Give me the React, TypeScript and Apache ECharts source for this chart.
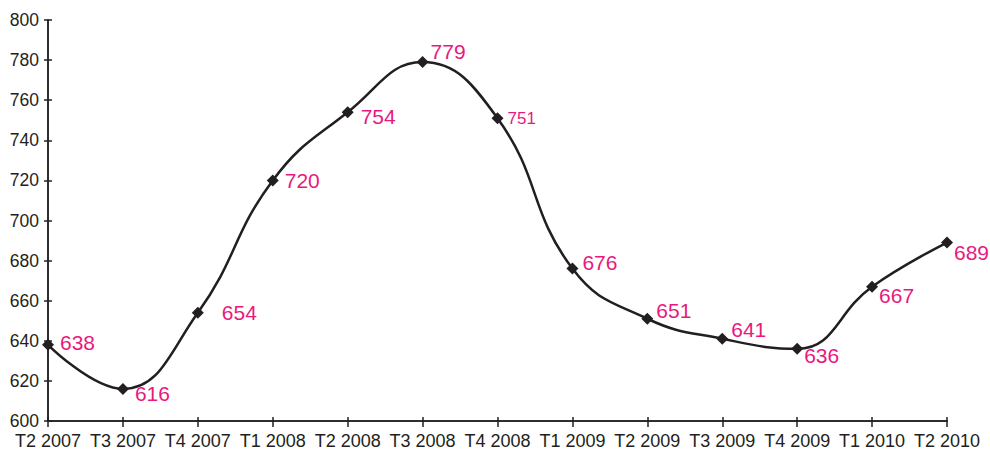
import React, { useEffect, useRef } from "react";
import * as echarts from "echarts";

const categories = [
  "T2 2007", "T3 2007", "T4 2007", "T1 2008", "T2 2008", "T3 2008", "T4 2008",
  "T1 2009", "T2 2009", "T3 2009", "T4 2009", "T1 2010", "T2 2010",
];
const values = [638, 616, 654, 720, 754, 779, 751, 676, 651, 641, 636, 667, 689];
const labelDx = [12, 12, 24, 12, 13, 8, 10, 10, 9, 9, 7, 7, 7];
const labelDy = [-2, 5, 0, 0, 4, -11, 0, -6, -8, -9, 7, 9, 10];
const labelSizes = [21, 21, 21, 21, 21, 21, 17, 21, 21, 21, 21, 21, 21];

const INK = "#231f20";
const MAGENTA = "#e8197e";
const FONT = "'Liberation Sans', Arial, Helvetica, sans-serif";

export default function App() {
  const ref = useRef<HTMLDivElement>(null);
  useEffect(() => {
    if (!ref.current) return;
    const chart = echarts.init(ref.current, null, { renderer: "svg" });
    const yBase = {
      type: "value" as const,
      min: 600,
      max: 800,
      interval: 20,
      splitLine: { show: false },
      axisLine: { show: true, lineStyle: { color: INK, width: 1.5 } },
    };
    const xBase = {
      type: "category" as const,
      data: categories,
      boundaryGap: false,
      axisLine: { show: true, lineStyle: { color: INK, width: 1.5 } },
    };
    chart.setOption({
      animation: false,
      backgroundColor: "#ffffff",
      grid: { left: 48, right: 43, top: 20, bottom: 30, containLabel: false },
      xAxis: [
        {
          ...xBase,
          axisTick: { show: true, alignWithLabel: true, length: 6, lineStyle: { color: INK, width: 1.5 } },
          axisLabel: { color: INK, fontSize: 18, fontFamily: FONT, margin: 11, interval: 0 },
        },
        {
          ...xBase,
          position: "bottom",
          axisTick: { show: true, inside: true, length: 4, lineStyle: { color: INK, width: 1.5 } },
          axisLabel: { show: false },
        },
      ],
      yAxis: [
        {
          ...yBase,
          axisTick: { show: true, length: 4, lineStyle: { color: INK, width: 1.5 } },
          axisLabel: { color: INK, fontSize: 17.5, fontFamily: FONT, margin: 9 },
        },
        {
          ...yBase,
          position: "left",
          axisTick: { show: true, inside: true, length: 4, lineStyle: { color: INK, width: 1.5 } },
          axisLabel: { show: false },
        },
      ],
      series: [
        {
          type: "line",
          data: values.map((v, i) => ({
            value: v,
            label: {
              show: true,
              position: "right",
              distance: 0,
              offset: [labelDx[i] - 6, labelDy[i]],
              color: MAGENTA,
              fontSize: labelSizes[i],
              fontFamily: FONT,
            },
          })),
          xAxisIndex: 0,
          yAxisIndex: 0,
          smooth: 0.45,
          symbol: "diamond",
          symbolSize: 12,
          itemStyle: { color: INK },
          lineStyle: { color: INK, width: 2.5 },
          z: 5,
        },
      ],
    });
    return () => chart.dispose();
  }, []);
  return (
    <div
      ref={ref}
      style={{ position: "fixed", left: 0, top: 0, width: 990, height: 451, background: "#fff" }}
    />
  );
}
